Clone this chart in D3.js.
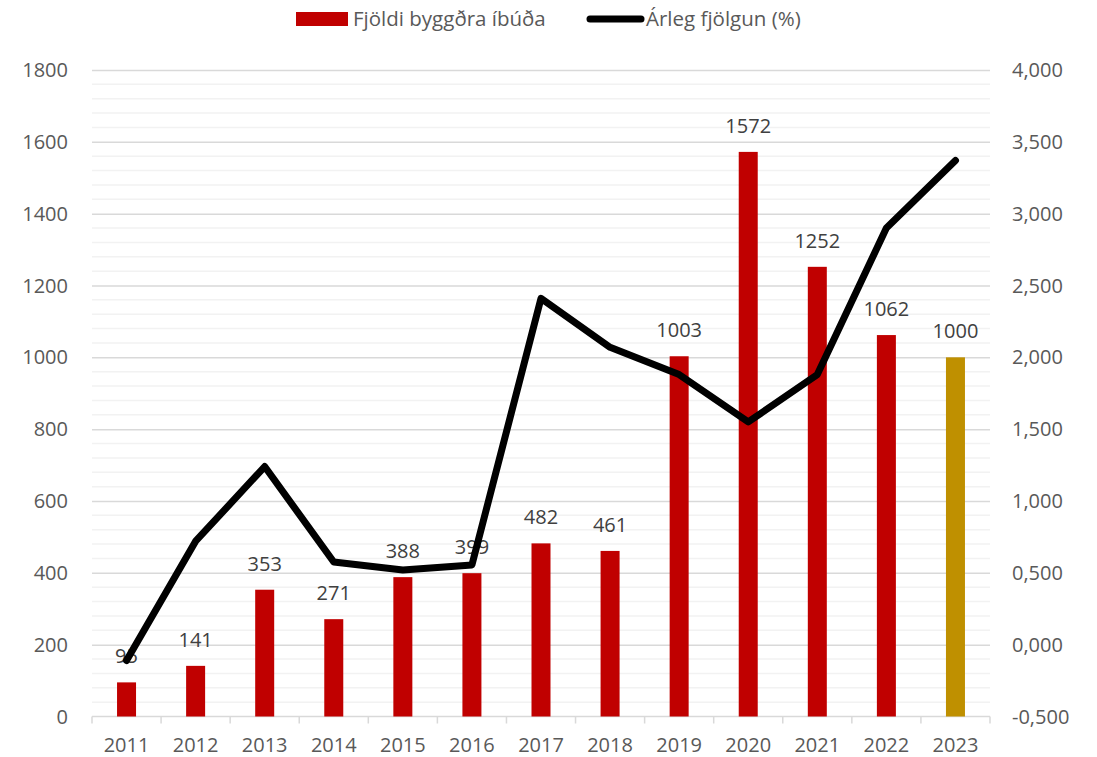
<!DOCTYPE html>
<html>
  <head>
    <meta charset="UTF-8" />
    <script src="https://d3js.org/d3.v7.min.js"></script>
    <style>
      body { margin: 0; background: #fff; }
      text { font-family: "Open Sans", sans-serif; }
    </style>
  </head>
  <body>
    <div id="chart"></div>
    <script>
      // data
      var years = ["2011","2012","2013","2014","2015","2016","2017","2018","2019","2020","2021","2022","2023"];
      var dwellings = [95, 141, 353, 271, 388, 399, 482, 461, 1003, 1572, 1252, 1062, 1000];
      var growth = [-0.11, 0.72, 1.24, 0.575, 0.52, 0.555, 2.41, 2.07, 1.88, 1.55, 1.88, 2.90, 3.37];
      var leftTicks = [0, 200, 400, 600, 800, 1000, 1200, 1400, 1600, 1800];
      var rightTicks = [-0.5, 0, 0.5, 1, 1.5, 2, 2.5, 3, 3.5, 4];
      var seriesNames = ["Fjöldi byggðra íbúða", "Árleg fjölgun (%)"];

      // plot box (window.top is read-only, so keep these in an object)
      var box = { left: 92, right: 990, top: 70, bottom: 716.5 };
      var width = 1097, height = 757;

      var svg = d3.select("#chart").append("svg")
        .attr("width", width).attr("height", height);

      var x = d3.scaleBand().domain(years).range([box.left, box.right]);
      var y = d3.scaleLinear().domain([0, 1800]).range([box.bottom, box.top]);
      var y2 = d3.scaleLinear().domain([-0.5, 4]).range([box.bottom, box.top]);

      // minor gridlines every 40
      svg.append("g").selectAll("line")
        .data(d3.range(40, 1800, 40).filter(function (v) { return v % 200 != 0; }))
        .join("line")
        .attr("x1", box.left).attr("x2", box.right)
        .attr("y1", function (d) { return y(d); })
        .attr("y2", function (d) { return y(d); })
        .attr("stroke", "#f2f2f2").attr("stroke-width", 1.5);

      // major gridlines
      svg.append("g")
        .attr("transform", "translate(" + box.left + ",0)")
        .call(d3.axisLeft(y).tickValues(leftTicks.slice(1)).tickSize(-(box.right - box.left)).tickFormat(""))
        .call(function (g) { g.select(".domain").remove(); })
        .selectAll("line").attr("stroke", "#d9d9d9").attr("stroke-width", 1.5);

      // left axis labels
      svg.append("g").selectAll("text")
        .data(leftTicks).join("text")
        .attr("x", 68).attr("y", function (d) { return y(d); })
        .attr("dy", "0.35em").attr("text-anchor", "end")
        .attr("font-size", 20).attr("fill", "#595959")
        .text(function (d) { return d; });

      // right axis labels, comma decimals and plain hyphen
      var fmt = function (v) { return d3.format(".3f")(v).replace(".", ",").replace("\u2212", "-"); };
      svg.append("g").selectAll("text")
        .data(rightTicks).join("text")
        .attr("x", 1012).attr("y", function (d) { return y2(d); })
        .attr("dy", "0.35em").attr("text-anchor", "start")
        .attr("font-size", 20).attr("fill", "#595959")
        .text(function (d) { return fmt(d); });

      // x axis
      var xAxis = svg.append("g").attr("transform", "translate(0," + box.bottom + ")");
      xAxis.append("line").attr("x1", box.left).attr("x2", box.right)
        .attr("stroke", "#d9d9d9").attr("stroke-width", 1.5);
      xAxis.selectAll(".tk").data(d3.range(years.length + 1)).join("line")
        .attr("class", "tk")
        .attr("x1", function (i) { return box.left + i * x.step(); })
        .attr("x2", function (i) { return box.left + i * x.step(); })
        .attr("y1", 0).attr("y2", 7)
        .attr("stroke", "#d9d9d9").attr("stroke-width", 1.5);
      xAxis.selectAll("text").data(years).join("text")
        .attr("x", function (d) { return x(d) + x.bandwidth() / 2; })
        .attr("y", 35).attr("text-anchor", "middle")
        .attr("font-size", 20).attr("fill", "#595959")
        .text(function (d) { return d; });

      // bars
      var barW = 19;
      svg.append("g").selectAll("rect")
        .data(years).join("rect")
        .attr("x", function (d) { return x(d) + x.bandwidth() / 2 - barW / 2; })
        .attr("y", function (d, i) { return y(dwellings[i]); })
        .attr("width", barW)
        .attr("height", function (d, i) { return box.bottom - y(dwellings[i]); })
        .attr("fill", function (d) { return d == "2023" ? "#bf9000" : "#c00000"; });

      // data labels
      svg.append("g").selectAll("text")
        .data(years).join("text")
        .attr("x", function (d) { return x(d) + x.bandwidth() / 2; })
        .attr("y", function (d, i) { return y(dwellings[i]) - 19; })
        .attr("text-anchor", "middle")
        .attr("font-size", 20).attr("fill", "#404040")
        .text(function (d, i) { return dwellings[i]; });

      // line
      var line = d3.line()
        .x(function (d, i) { return x(years[i]) + x.bandwidth() / 2; })
        .y(function (d) { return y2(d); });
      svg.append("path").datum(growth)
        .attr("d", line)
        .attr("fill", "none").attr("stroke", "#000")
        .attr("stroke-width", 7).attr("stroke-linejoin", "round").attr("stroke-linecap", "round");

      // legend
      var lg = svg.append("g");
      lg.append("rect").attr("x", 296).attr("y", 12).attr("width", 52).attr("height", 14).attr("fill", "#c00000");
      lg.append("text").attr("x", 353).attr("y", 19).attr("dy", "0.35em")
        .attr("font-size", 20.5).attr("fill", "#595959").text(seriesNames[0]);
      lg.append("line").attr("x1", 590).attr("x2", 641).attr("y1", 19).attr("y2", 19)
        .attr("stroke", "#000").attr("stroke-width", 7).attr("stroke-linecap", "round");
      lg.append("text").attr("x", 646).attr("y", 19).attr("dy", "0.35em")
        .attr("font-size", 20.5).attr("fill", "#595959").text(seriesNames[1]);
    </script>
  </body>
</html>
